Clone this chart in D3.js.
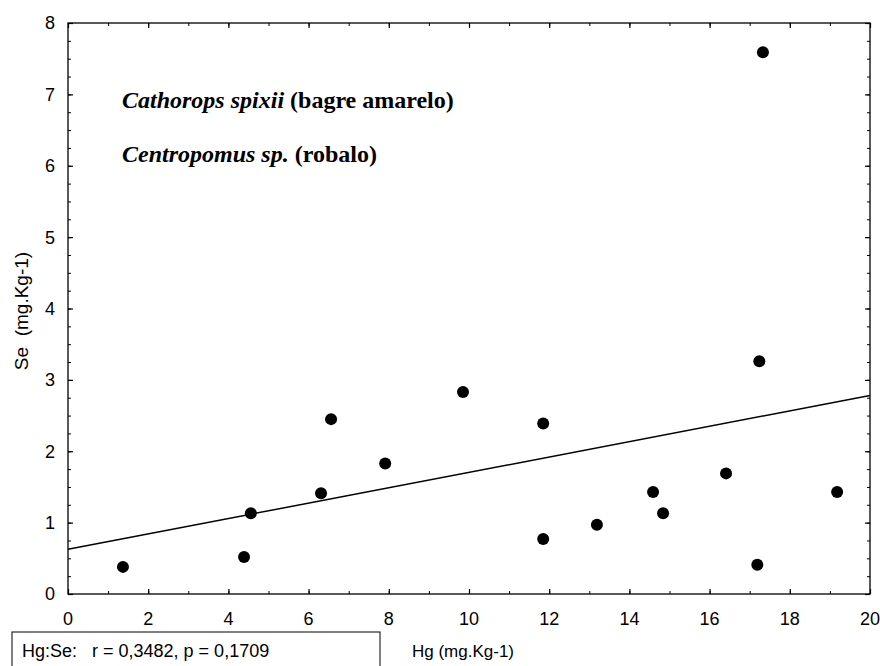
<!DOCTYPE html>
<html>
<head>
<meta charset="utf-8">
<script src="https://cdn.jsdelivr.net/npm/d3@7"></script>
<style>
body { margin: 0; background: #fff; }
svg { display: block; font-family: Arial, "Liberation Sans", sans-serif; }
</style>
</head>
<body>
<div id="main"></div>
<script>
// Hg (x) and Se (y), mg.Kg-1
var hg_values = [1.37, 4.39, 4.56, 6.31, 6.56, 7.91, 9.85, 11.85, 11.85, 13.19, 14.59, 14.84, 16.41, 17.19, 17.24, 17.33, 19.18];
var se_values = [0.38, 0.52, 1.13, 1.41, 2.45, 1.83, 2.83, 2.39, 0.77, 0.97, 1.43, 1.13, 1.69, 0.41, 3.26, 7.59, 1.43];
var x_ticks = [0, 2, 4, 6, 8, 10, 12, 14, 16, 18, 20];
var y_ticks = [0, 1, 2, 3, 4, 5, 6, 7, 8];
var x_domain = [0, 20];
var y_domain = [0, 8];
var stats_text = "Hg:Se:   r = 0,3482, p = 0,1709";

var width = 880, height = 666;
var plot = {left: 68, right: 870, top: 23, bottom: 594};

var svg = d3.select("#main").append("svg")
	.attr("width", width).attr("height", height);

var x = d3.scaleLinear().domain(x_domain).range([plot.left, plot.right]);
var y = d3.scaleLinear().domain(y_domain).range([plot.bottom, plot.top]);

// minor ticks : every unit on x, every quarter on y
var x_minor = d3.range(x_domain[0], x_domain[1] + 0.001, 1);
var y_minor = d3.range(y_domain[0], y_domain[1] + 0.001, 0.25);

function draw_axis(axis, pos, minor, major){
	var g = svg.append("g").attr("transform", pos);
	g.call(axis.tickValues(minor).tickSize(3).tickFormat(""));
	g.select(".domain").remove();
	g.selectAll("line").attr("stroke", "#000").attr("stroke-width", 1);
	var g2 = svg.append("g").attr("transform", pos);
	g2.call(axis.tickValues(major).tickSize(5));
	g2.selectAll("line").attr("stroke", "#000").attr("stroke-width", 1.2);
	g2.select(".domain").remove();
	return g2;
}

// bottom (labels), top, left (labels), right
var gx = draw_axis(d3.axisTop(x), "translate(0," + plot.bottom + ")", x_minor, x_ticks);
gx.selectAll("text").remove();
svg.append("g").selectAll("text").data(x_ticks).enter().append("text")
	.attr("x", function(d){ return x(d); }).attr("y", plot.bottom + 31)
	.attr("text-anchor", "middle").style("font-size", "18px")
	.text(function(d){ return d; });

draw_axis(d3.axisBottom(x), "translate(0," + plot.top + ")", x_minor, x_ticks)
	.selectAll("text").remove();

var gy = draw_axis(d3.axisRight(y), "translate(" + plot.left + ",0)", y_minor, y_ticks);
gy.selectAll("text").remove();
svg.append("g").selectAll("text").data(y_ticks).enter().append("text")
	.attr("x", plot.left - 13).attr("y", function(d){ return y(d); })
	.attr("dy", "0.36em")
	.attr("text-anchor", "end").style("font-size", "18px")
	.text(function(d){ return d; });

draw_axis(d3.axisLeft(y), "translate(" + plot.right + ",0)", y_minor, y_ticks)
	.selectAll("text").remove();

// frame
svg.append("rect")
	.attr("x", plot.left).attr("y", plot.top)
	.attr("width", plot.right - plot.left).attr("height", plot.bottom - plot.top)
	.attr("fill", "none").attr("stroke", "#000").attr("stroke-width", 1.3);

// least squares fit
var mx = d3.mean(hg_values), my = d3.mean(se_values);
var sxy = d3.sum(hg_values, function(v, i){ return (v - mx) * (se_values[i] - my); });
var sxx = d3.sum(hg_values, function(v){ return (v - mx) * (v - mx); });
var slope = sxy / sxx, intercept = my - slope * mx;

svg.append("line")
	.attr("x1", x(x_domain[0])).attr("y1", y(intercept + slope * x_domain[0]))
	.attr("x2", x(x_domain[1])).attr("y2", y(intercept + slope * x_domain[1]))
	.attr("stroke", "#000").attr("stroke-width", 1.5);

svg.append("g").selectAll("circle").data(hg_values).enter().append("circle")
	.attr("cx", function(d){ return x(d); })
	.attr("cy", function(d, i){ return y(se_values[i]); })
	.attr("r", 6).attr("fill", "#000");

// species labels
var species = svg.append("g")
	.style("font-family", "'Liberation Serif', 'Times New Roman', serif")
	.style("font-size", "24px").style("font-weight", "bold");
var t1 = species.append("text").attr("x", 122).attr("y", 108);
t1.append("tspan").style("font-style", "italic").text("Cathorops spixii");
t1.append("tspan").text(" (bagre amarelo)");
var t2 = species.append("text").attr("x", 122).attr("y", 162);
t2.append("tspan").style("font-style", "italic").text("Centropomus sp.");
t2.append("tspan").text(" (robalo)");

// axis titles
svg.append("text")
	.attr("transform", "translate(28,311) rotate(-90)")
	.attr("text-anchor", "middle").style("font-size", "19px")
	.style("white-space", "pre")
	.text("Se  (mg.Kg-1)");

svg.append("text")
	.attr("x", 412).attr("y", 657).style("font-size", "17px")
	.text("Hg (mg.Kg-1)");

// stats box
svg.append("rect")
	.attr("x", 12).attr("y", 632).attr("width", 368).attr("height", 40)
	.attr("fill", "none").attr("stroke", "#000").attr("stroke-width", 1);
svg.append("text")
	.attr("x", 22).attr("y", 657).style("font-size", "18px")
	.style("white-space", "pre")
	.text(stats_text);
</script>
</body>
</html>
